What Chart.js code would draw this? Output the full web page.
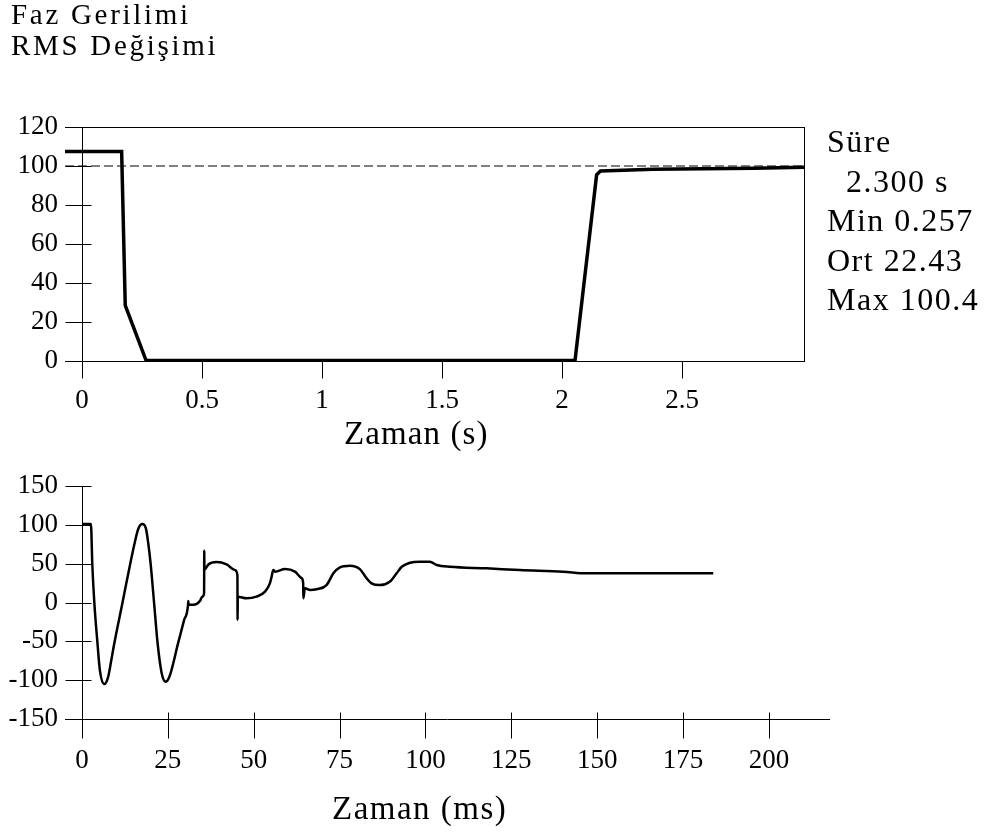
<!DOCTYPE html>
<html>
<head>
<meta charset="utf-8">
<title>Faz Gerilimi - RMS Değişimi</title>
<script src="https://cdn.jsdelivr.net/npm/chart.js@4.4.1/dist/chart.umd.min.js"></script>
<style>
  html, body { margin: 0; padding: 0; background: #fff; }
  #wrap { position: relative; width: 990px; height: 832px; overflow: hidden;
          font-family: "Liberation Serif", "Times New Roman", serif; color: #000; }
  canvas { position: absolute; left: 0; }
  #rmsChart { top: 0; }
  #waveChart { top: 460px; }
  .lbl { position: absolute; white-space: pre; }
  #title { left: 11px; top: -1px; font-size: 29px; line-height: 31px; letter-spacing: 2.7px; }
  #stats { left: 827px; top: 122px; font-size: 32px; line-height: 39.5px; letter-spacing: 1.5px; }
  #xTitleTop { left: 344px; top: 417px; font-size: 33px; line-height: 1; letter-spacing: 1.1px; }
  #xTitleWave { left: 332px; top: 792px; font-size: 33px; line-height: 1; letter-spacing: 1.5px; }
</style>
</head>
<body>
<div id="wrap">
  <canvas id="rmsChart" width="990" height="460"></canvas>
  <canvas id="waveChart" width="990" height="372"></canvas>
  <div id="title" class="lbl">Faz Gerilimi
RMS Değişimi</div>
  <div id="stats" class="lbl">Süre
  2.300 s
Min 0.257
Ort 22.43
Max 100.4</div>
  <div id="xTitleTop" class="lbl">Zaman (s)</div>
  <div id="xTitleWave" class="lbl">Zaman (ms)</div>
</div>
<script>
// RMS trend, time in s
const rmsTime  = [-0.071, 0.165, 0.18, 0.267, 2.054, 2.144, 2.16, 2.38, 2.8, 3.008];
const rmsValue = [107.4, 107.4, 28.5, 0.257, 0.3, 95.5, 97.4, 98.3, 98.8, 99.3];
const nominal = 100;
const rmsXTicks = [0, 0.5, 1, 1.5, 2, 2.5];
const rmsYTicks = [0, 20, 40, 60, 80, 100, 120];

// phase voltage waveform, time in ms
const waveTime = [0, 2.6, 3.0, 3.6, 4.5, 5.2, 6.5, 7.6, 8.5, 9.3, 11.8, 14.0, 15.4, 16.4, 17.6,
  18.6, 19.3, 20.0, 21.0, 22.0, 23.2, 24.4, 25.5, 28.0, 29.7, 30.9, 30.95, 31.0, 32.4, 34.4, 35.0,
  35.55, 35.6, 35.65, 36.8, 39.2, 42.1, 44.5, 45.25, 45.3, 45.35, 47.9, 50.8, 53.3, 54.7, 55.2,
  55.7, 56.2, 59.1, 62.0, 64.0, 64.4, 64.45, 64.9, 66.4, 68.3, 71.2, 73.2, 75.1, 78.0, 80.9, 82.9,
  84.3, 86.7, 89.6, 91.6, 93.1, 95.5, 98.4, 101.3, 103.3, 107.1, 117.8, 127.5, 140.1, 146.9, 183.8];
const waveValue = [101, 101, 49, -1, -52, -87, -105, -96, -75, -55, 0, 49, 78, 95, 101,
  95.5, 76, 49, -1, -52, -91, -102, -95, -52, -23, -2, 2, -3, -3, 2.3, 7.5,
  12, 67, 42, 49, 52, 49, 42, 35.4, -22.5, 7.5, 5.4, 7.5, 14, 24.7, 33,
  42, 39.7, 43, 39.7, 31, 24.7, 5.4, 18.3, 16, 17, 22.5, 37.6, 45.3, 47.4, 43, 31,
  24.7, 22.5, 26.8, 37.6, 46, 51.2, 52.5, 52.5, 48.3, 46, 44, 41.8, 39.7, 37.6, 37.6];
const waveXTicks = [0, 25, 50, 75, 100, 125, 150, 175, 200];
const waveYTicks = [-150, -100, -50, 0, 50, 100, 150];

Chart.defaults.font.family = "'Liberation Serif', 'Times New Roman', serif";
Chart.defaults.font.size = 27;
Chart.defaults.color = '#000';

// tick marks that cross the axis lines (vertical axis sits at x = 0)
const crossTicks = {
  id: 'crossTicks',
  afterDraw(chart, args, opts) {
    const ctx = chart.ctx;
    const xs = chart.scales.x;
    const ys = chart.scales.y;
    const x0 = Math.round(xs.getPixelForValue(0)) + 0.5;
    const yb = Math.round(chart.chartArea.bottom) + 0.5;
    ctx.save();
    ctx.strokeStyle = '#000';
    ctx.lineWidth = 1;
    ctx.beginPath();
    xs.ticks.forEach(t => {
      const px = Math.round(xs.getPixelForValue(t.value)) + 0.5;
      ctx.moveTo(px, yb - opts.up);
      ctx.lineTo(px, yb + opts.down);
    });
    ys.ticks.forEach(t => {
      const py = Math.round(ys.getPixelForValue(t.value)) + 0.5;
      ctx.moveTo(x0 - opts.left, py);
      ctx.lineTo(x0 + opts.right, py);
    });
    ctx.stroke();
    ctx.restore();
  }
};

function points(xs, ys) {
  return xs.map((x, i) => ({x: x, y: ys[i]}));
}

function fixedTicks(values) {
  return (scale) => { scale.ticks = values.map(v => ({value: v})); };
}

const plainAxis = {
  grid: {display: false, drawTicks: false},
  border: {color: '#000', width: 1}
};

// y labels live in the left gutter, the axis line itself is drawn at x = 0
function labelAxis(min, max, values) {
  return {
    grid: {display: false, drawTicks: false},
    border: {display: false},
    type: 'linear',
    position: 'left',
    min: min,
    max: max,
    afterBuildTicks: fixedTicks(values),
    afterFit: (s) => { s.width = 65; },
    ticks: {padding: 7}
  };
}

const zeroLine = {
  ...plainAxis,
  type: 'linear',
  position: {x: 0},
  ticks: {display: false}
};

const rmsChart = new Chart(document.getElementById('rmsChart'), {
  type: 'line',
  data: {
    datasets: [
      {
        data: points(rmsTime, rmsValue),
        borderColor: '#000',
        borderWidth: 3.5,
        pointRadius: 0,
        tension: 0
      }, {
        data: points([rmsTime[0], rmsTime[rmsTime.length - 1]], [nominal, nominal]),
        borderColor: '#000',
        borderWidth: 1,
        borderDash: [9, 4],
        pointRadius: 0
      }
    ]
  },
  options: {
    responsive: false,
    animation: false,
    events: [],
    layout: {padding: {left: 0, top: 127, right: 186, bottom: 0}},
    plugins: {
      legend: {display: false},
      tooltip: {enabled: false},
      crossTicks: {up: 0, down: 17, left: 17, right: 9}
    },
    scales: {
      x: {
        ...plainAxis,
        type: 'linear',
        position: 'bottom',
        min: -0.071,
        max: 3.008,
        afterBuildTicks: fixedTicks(rmsXTicks),
        afterFit: (s) => { s.height = 99; },
        ticks: {padding: 24, maxRotation: 0, callback: (v) => String(v)}
      },
      y: labelAxis(0, 120, rmsYTicks),
      yZero: zeroLine,
      xTop: {
        ...plainAxis,
        type: 'linear',
        position: 'top',
        ticks: {display: false},
        afterFit: (s) => { s.height = 0; }
      },
      yRight: {
        ...plainAxis,
        type: 'linear',
        position: 'right',
        ticks: {display: false},
        afterFit: (s) => { s.width = 0; }
      }
    }
  },
  plugins: [crossTicks]
});

const waveChart = new Chart(document.getElementById('waveChart'), {
  type: 'line',
  data: {
    datasets: [
      {
        data: points(waveTime, waveValue),
        borderColor: '#000',
        borderWidth: 2.5,
        pointRadius: 0,
        cubicInterpolationMode: 'monotone'
      }
    ]
  },
  options: {
    responsive: false,
    animation: false,
    events: [],
    layout: {padding: {left: 0, top: 26, right: 161, bottom: 0}},
    plugins: {
      legend: {display: false},
      tooltip: {enabled: false},
      crossTicks: {up: 7, down: 19, left: 17, right: 9}
    },
    scales: {
      x: {
        ...plainAxis,
        type: 'linear',
        position: 'bottom',
        min: -4.95,
        max: 217.5,
        afterBuildTicks: fixedTicks(waveXTicks),
        afterFit: (s) => { s.height = 113; },
        ticks: {padding: 26, maxRotation: 0, callback: (v) => String(v)}
      },
      y: labelAxis(-150, 150, waveYTicks),
      yZero: zeroLine
    }
  },
  plugins: [crossTicks]
});
</script>
</body>
</html>
